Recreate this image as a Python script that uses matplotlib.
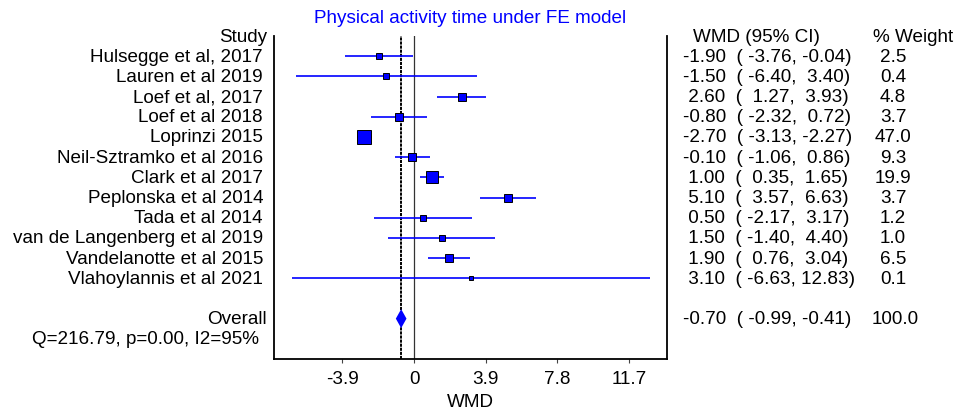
import matplotlib
matplotlib.use("Agg")
import matplotlib.pyplot as plt
import matplotlib.transforms as mtransforms
import numpy as np

plt.rcParams['font.family'] = ['Liberation Sans', 'DejaVu Sans']

# ---- data ----
studies = ["Hulsegge et al, 2017", "Lauren et al 2019", "Loef et al, 2017", "Loef et al 2018",
           "Loprinzi 2015", "Neil-Sztramko et al 2016", "Clark et al 2017", "Peplonska et al 2014",
           "Tada et al 2014", "van de Langenberg et al 2019", "Vandelanotte et al 2015",
           "Vlahoylannis et al 2021"]
est = [-1.90, -1.50, 2.60, -0.80, -2.70, -0.10, 1.00, 5.10, 0.50, 1.50, 1.90, 3.10]
ci_lo = [-3.76, -6.40, 1.27, -2.32, -3.13, -1.06, 0.35, 3.57, -2.17, -1.40, 0.76, -6.63]
ci_hi = [-0.04, 3.40, 3.93, 0.72, -2.27, 0.86, 1.65, 6.63, 3.17, 4.40, 3.04, 12.83]
weight = [2.5, 0.4, 4.8, 3.7, 47.0, 9.3, 19.9, 3.7, 1.2, 1.0, 6.5, 0.1]
overall_est = -0.70
overall_lo = -0.99
overall_hi = -0.41
overall_weight = 100.0
het_text = "Q=216.79, p=0.00, I2=95%"
title = "Physical activity time under FE model"
xticks = [-3.9, 0, 3.9, 7.8, 11.7]
xticklabels = ["-3.9", "0", "3.9", "7.8", "11.7"]

W, H = 957, 410
fig = plt.figure(figsize=(W / 100, H / 100), dpi=100)
ax_left, ax_right, ax_top, ax_bot = 274, 666.7, 37, 360
ax = fig.add_axes([ax_left / W, (H - ax_bot) / H, (ax_right - ax_left) / W, (ax_bot - ax_top) / H])

blue = '#0000FF'
fs = 13.6

n = len(studies)
rows = np.arange(1, n + 1)
overall_row = n + 2
het_row = n + 3

ax.set_xlim(-7.62, 13.75)
ax.set_ylim(n + 4, 0)

# reference lines
ax.axvline(0, color='#333333', lw=0.9, zorder=1)
ax.axvline(overall_est, color='black', lw=1.4, ls=(0, (1.6, 0.5)), zorder=1)

# CIs and squares
for r, e, lo, hi, w in zip(rows, est, ci_lo, ci_hi, weight):
    ax.plot([lo, hi], [r, r], color=blue, lw=1.2, zorder=2, solid_capstyle='butt')
    side_px = 4.0 + 1.6 * np.sqrt(w)
    ax.plot([e], [r], marker='s', ms=side_px * 0.72, mfc=blue, mec='black', mew=0.7,
            ls='none', zorder=3)

# overall diamond
dh = 0.47
ax.fill([overall_lo, overall_est, overall_hi, overall_est],
        [overall_row, overall_row - dh, overall_row, overall_row + dh],
        color=blue, lw=0, zorder=3)

# spines and ticks
ax.spines['top'].set_visible(False)
for s in ['left', 'right', 'bottom']:
    ax.spines[s].set_linewidth(1.3)
    ax.spines[s].set_color('black')
ax.set_yticks([])
ax.set_xticks(xticks)
ax.set_xticklabels(xticklabels, fontsize=fs)
ax.tick_params(axis='x', direction='out', length=3, width=0.8, pad=5, color='#444444')
ax.set_facecolor('white')

# texts
trans = mtransforms.blended_transform_factory(fig.transFigure, ax.transData)
ax.text(267 / W, 0, "Study", transform=trans, ha='right', va='center', fontsize=fs)
for r, s in zip(rows, studies):
    ax.text(263 / W, r, s, transform=trans, ha='right', va='center', fontsize=fs)
ax.text(267 / W, overall_row, "Overall", transform=trans, ha='right', va='center', fontsize=fs)
ax.text(259 / W, het_row, het_text, transform=trans, ha='right', va='center', fontsize=fs)

ax.text(693 / W, 0, "WMD (95% CI)", transform=trans, ha='left', va='center', fontsize=fs)
ax.text(873 / W, 0, "% Weight", transform=trans, ha='left', va='center', fontsize=fs)


def fmt(e, lo, hi):
    return f"{e:5.2f}  ({lo:6.2f},{hi:6.2f})"


for r, e, lo, hi, w in zip(rows, est, ci_lo, ci_hi, weight):
    ax.text(683 / W, r, fmt(e, lo, hi), transform=trans, ha='left', va='center', fontsize=fs)
    ax.text(893 / W, r, f"{w:.1f}", transform=trans, ha='center', va='center', fontsize=fs)
ax.text(683 / W, overall_row, fmt(overall_est, overall_lo, overall_hi), transform=trans,
        ha='left', va='center', fontsize=fs)
ax.text(895 / W, overall_row, f"{overall_weight:.1f}", transform=trans, ha='center',
        va='center', fontsize=fs)

fig.text((ax_left + ax_right) / 2 / W, 1 - 18.5 / H, title, color=blue, ha='center',
         va='center', fontsize=fs)
fig.text((ax_left + ax_right) / 2 / W, 1 - 403 / H, "WMD", ha='center', va='center', fontsize=fs)

fig.savefig("out.png", dpi=100, facecolor='white')
